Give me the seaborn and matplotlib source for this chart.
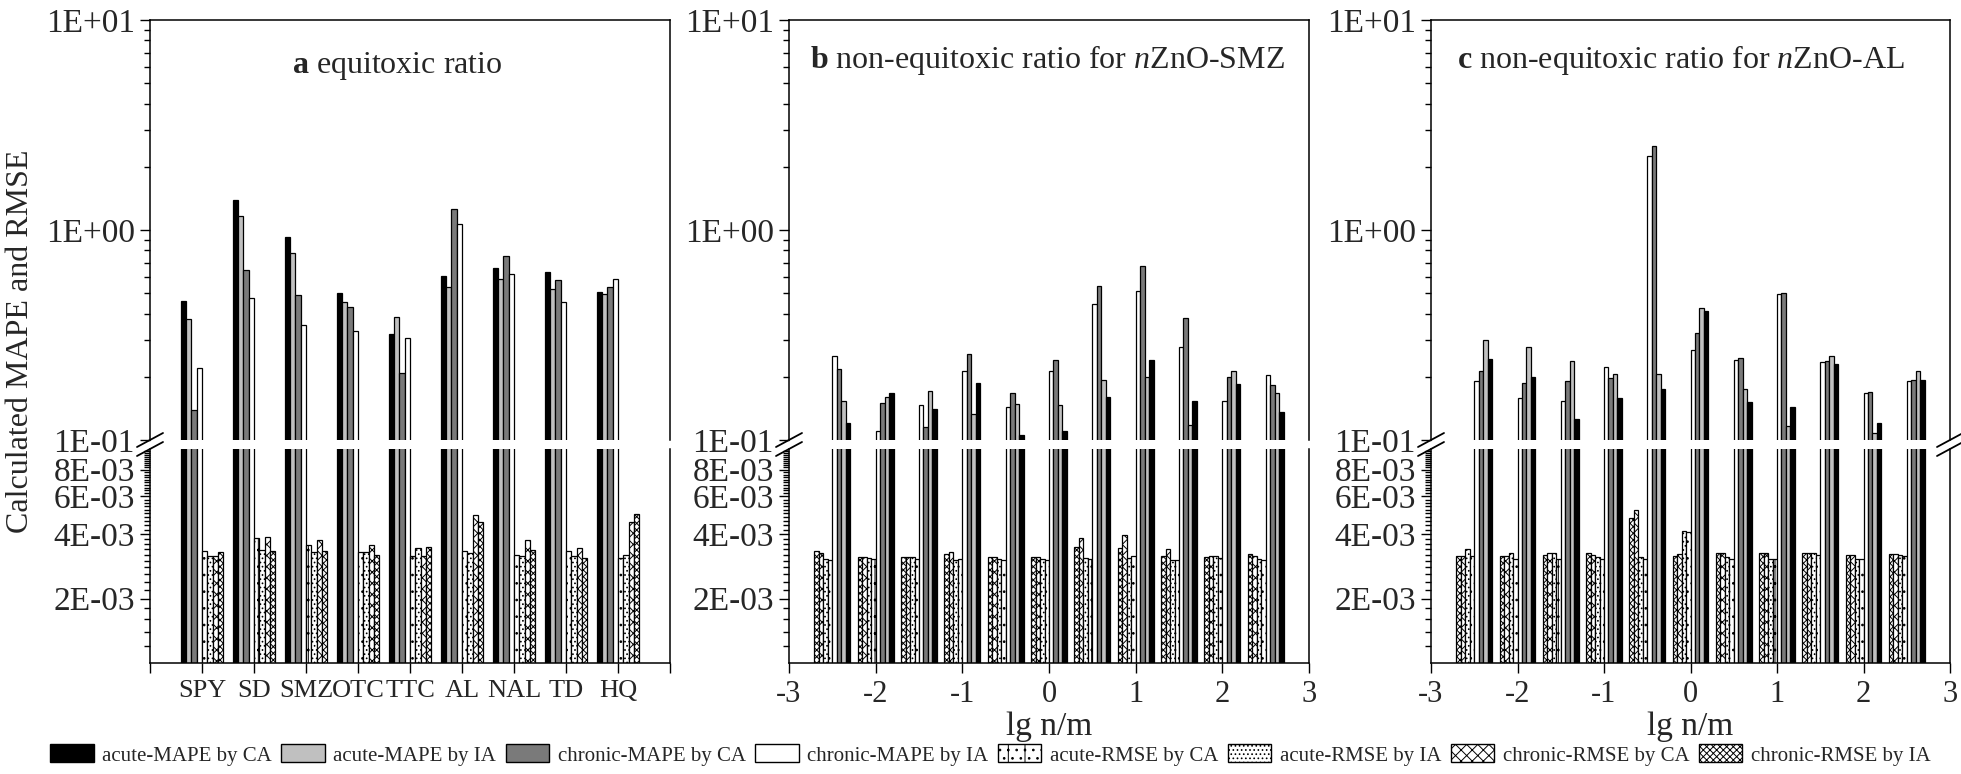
import numpy as np
import pandas as pd
import matplotlib
matplotlib.use("Agg")
import matplotlib.pyplot as plt
import seaborn as sns
from matplotlib.patches import Patch
from matplotlib.lines import Line2D
from matplotlib.ticker import FixedLocator, FixedFormatter, NullFormatter, LogLocator

# ---------------- data ----------------
series = ["acute-MAPE by CA", "acute-MAPE by IA", "chronic-MAPE by CA", "chronic-MAPE by IA",
          "acute-RMSE by CA", "acute-RMSE by IA", "chronic-RMSE by CA", "chronic-RMSE by IA"]

categories = ["SPY", "SD", "SMZ", "OTC", "TTC", "AL", "NAL", "TD", "HQ"]
a_acute_mape_ca = [0.458, 1.39, 0.93, 0.501, 0.32, 0.604, 0.656, 0.628, 0.509]
a_acute_mape_ia = [0.375, 1.17, 0.773, 0.456, 0.387, 0.537, 0.586, 0.524, 0.494]
a_chronic_mape_ca = [0.139, 0.642, 0.489, 0.432, 0.209, 1.26, 0.748, 0.580, 0.533]
a_chronic_mape_ia = [0.221, 0.475, 0.354, 0.329, 0.307, 1.07, 0.619, 0.453, 0.586]
a_acute_rmse_ca = [3.35e-3, 3.85e-3, 3.56e-3, 3.30e-3, 3.17e-3, 3.32e-3, 3.19e-3, 3.32e-3, 3.11e-3]
a_acute_rmse_ia = [3.17e-3, 3.38e-3, 3.29e-3, 3.31e-3, 3.44e-3, 3.26e-3, 3.17e-3, 3.17e-3, 3.19e-3]
a_chronic_rmse_ca = [3.15e-3, 3.88e-3, 3.77e-3, 3.55e-3, 3.15e-3, 4.90e-3, 3.77e-3, 3.44e-3, 4.57e-3]
a_chronic_rmse_ia = [3.30e-3, 3.35e-3, 3.32e-3, 3.21e-3, 3.47e-3, 4.54e-3, 3.38e-3, 3.10e-3, 4.97e-3]

lg_ratio = [-2.5, -2.0, -1.5, -1.0, -0.5, 0.0, 0.5, 1.0, 1.5, 2.0, 2.5]

b_acute_mape_ca = [0.121, 0.168, 0.140, 0.186, 0.106, 0.110, 0.161, 0.240, 0.153, 0.184, 0.136]
b_acute_mape_ia = [0.154, 0.160, 0.171, 0.133, 0.148, 0.147, 0.194, 0.199, 0.118, 0.214, 0.168]
b_chronic_mape_ca = [0.218, 0.150, 0.115, 0.258, 0.168, 0.240, 0.543, 0.671, 0.379, 0.200, 0.182]
b_chronic_mape_ia = [0.251, 0.110, 0.147, 0.212, 0.143, 0.214, 0.446, 0.512, 0.277, 0.153, 0.204]
b_acute_rmse_ca = [3.02e-3, 3.05e-3, 3.05e-3, 3.05e-3, 3.02e-3, 3.02e-3, 3.05e-3, 3.17e-3, 3.02e-3, 3.09e-3, 3.02e-3]
b_acute_rmse_ia = [3.05e-3, 3.09e-3, 3.12e-3, 3.02e-3, 3.05e-3, 3.05e-3, 3.11e-3, 3.09e-3, 3.02e-3, 3.17e-3, 3.07e-3]
b_chronic_rmse_ca = [3.25e-3, 3.14e-3, 3.12e-3, 3.29e-3, 3.14e-3, 3.14e-3, 3.83e-3, 3.96e-3, 3.41e-3, 3.17e-3, 3.17e-3]
b_chronic_rmse_ia = [3.33e-3, 3.12e-3, 3.14e-3, 3.23e-3, 3.14e-3, 3.14e-3, 3.50e-3, 3.46e-3, 3.17e-3, 3.14e-3, 3.23e-3]

c_acute_mape_ca = [0.243, 0.199, 0.126, 0.159, 0.174, 0.413, 0.152, 0.143, 0.229, 0.121, 0.194]
c_acute_mape_ia = [0.299, 0.277, 0.237, 0.207, 0.206, 0.423, 0.175, 0.117, 0.250, 0.108, 0.214]
c_chronic_mape_ca = [0.212, 0.186, 0.192, 0.197, 2.52, 0.323, 0.246, 0.502, 0.237, 0.170, 0.194]
c_chronic_mape_ia = [0.190, 0.158, 0.154, 0.223, 2.25, 0.268, 0.240, 0.495, 0.234, 0.168, 0.191]
c_acute_rmse_ca = [3.17e-3, 3.07e-3, 3.05e-3, 3.05e-3, 3.07e-3, 4.10e-3, 3.07e-3, 3.05e-3, 3.21e-3, 3.05e-3, 3.17e-3]
c_acute_rmse_ia = [3.41e-3, 3.25e-3, 3.28e-3, 3.14e-3, 3.14e-3, 4.14e-3, 3.14e-3, 3.05e-3, 3.28e-3, 3.05e-3, 3.20e-3]
c_chronic_rmse_ca = [3.17e-3, 3.17e-3, 3.26e-3, 3.20e-3, 5.20e-3, 3.23e-3, 3.25e-3, 3.28e-3, 3.25e-3, 3.20e-3, 3.23e-3]
c_chronic_rmse_ia = [3.17e-3, 3.17e-3, 3.21e-3, 3.25e-3, 4.78e-3, 3.17e-3, 3.25e-3, 3.26e-3, 3.25e-3, 3.20e-3, 3.23e-3]

titles = [r"$\mathbf{a}$ equitoxic ratio",
          r"$\mathbf{b}$ non-equitoxic ratio for $\mathit{n}$ZnO-SMZ",
          r"$\mathbf{c}$ non-equitoxic ratio for $\mathit{n}$ZnO-AL"]

# ---------------- style ----------------
sns.set_theme(style="ticks")
plt.rcParams['font.family'] = ['Liberation Serif', 'DejaVu Serif']
plt.rcParams['mathtext.fontset'] = 'custom'
plt.rcParams['mathtext.rm'] = 'Liberation Serif'
plt.rcParams['mathtext.it'] = 'Liberation Serif:italic'
plt.rcParams['mathtext.bf'] = 'Liberation Serif:bold'
plt.rcParams['hatch.linewidth'] = 0.7
plt.rcParams['hatch.color'] = 'black'

face = {series[0]: "#000000", series[1]: "#c0c0c0", series[2]: "#7a7a7a", series[3]: "#ffffff",
        series[4]: "#ffffff", series[5]: "#ffffff", series[6]: "#ffffff", series[7]: "#ffffff"}
hatch = {series[0]: None, series[1]: None, series[2]: None, series[3]: None,
         series[4]: "|..", series[5]: "....", series[6]: "xxx", series[7]: "xxxxx"}


def long_df(xname, xvals, cols):
    frames = []
    for name, vals in zip(series, cols):
        frames.append(pd.DataFrame({xname: xvals, "series": name, "value": vals}))
    return pd.concat(frames, ignore_index=True)


df_a = long_df("cat", categories, [a_acute_mape_ca, a_acute_mape_ia, a_chronic_mape_ca, a_chronic_mape_ia,
                                   a_acute_rmse_ca, a_acute_rmse_ia, a_chronic_rmse_ca, a_chronic_rmse_ia])
df_b = long_df("lg", lg_ratio, [b_acute_mape_ca, b_acute_mape_ia, b_chronic_mape_ca, b_chronic_mape_ia,
                                b_acute_rmse_ca, b_acute_rmse_ia, b_chronic_rmse_ca, b_chronic_rmse_ia])
df_c = long_df("lg", lg_ratio, [c_acute_mape_ca, c_acute_mape_ia, c_chronic_mape_ca, c_chronic_mape_ia,
                                c_acute_rmse_ca, c_acute_rmse_ia, c_chronic_rmse_ca, c_chronic_rmse_ia])

W, H = 1961, 774
fig = plt.figure(figsize=(W / 100, H / 100), dpi=100)

lefts = [150, 789, 1431]
widths = [520, 520, 519]
top_px, brk_top, brk_bot, bot_px = 20, 440, 449, 663


def fr(x0, y0, w, h):
    return [x0 / W, 1 - (y0 + h) / H, w / W, h / H]


tick_kw = dict(direction="out", width=1.0, color="black")


def draw_panel(i, df, xcol, order, native, width):
    axt = fig.add_axes(fr(lefts[i], top_px, widths[i], brk_top - top_px))
    axb = fig.add_axes(fr(lefts[i], brk_bot, widths[i], bot_px - brk_bot))
    for ax in (axt, axb):
        sns.barplot(data=df, x=xcol, y="value", hue="series", hue_order=order,
                    palette=face, saturation=1, width=width, native_scale=native,
                    errorbar=None, edgecolor="black", linewidth=0.9, legend=False, ax=ax)
        ax.set_yscale("log", nonpositive="clip")
        for cont, name in zip(ax.containers, order):
            if hatch[name]:
                for p in cont:
                    p.set_hatch(hatch[name])
        for s in ax.spines.values():
            s.set_linewidth(1.1)
            s.set_color("black")
        ax.set_xlabel("")
        ax.set_ylabel("")
    axt.set_ylim(0.1, 10)
    axb.set_ylim(1e-3, 1e-2)
    axt.spines["bottom"].set_visible(False)
    axb.spines["top"].set_visible(False)

    axt.yaxis.set_major_locator(FixedLocator([0.1, 1, 10]))
    axt.yaxis.set_major_formatter(FixedFormatter(["1E-01", "1E+00", "1E+01"]))
    axt.yaxis.set_minor_locator(LogLocator(base=10, subs=np.arange(2, 10)))
    axt.yaxis.set_minor_formatter(NullFormatter())
    axb.yaxis.set_major_locator(FixedLocator([2e-3, 4e-3, 6e-3, 8e-3]))
    axb.yaxis.set_major_formatter(FixedFormatter(["2E-03", "4E-03", "6E-03", "8E-03"]))
    mins = [k * 1e-4 for k in range(12, 100, 2) if k not in (20, 40, 60, 80)]
    axb.yaxis.set_minor_locator(FixedLocator(mins))
    axb.yaxis.set_minor_formatter(NullFormatter())
    for ax in (axt, axb):
        ax.tick_params(axis="y", which="major", length=7, labelsize=24, pad=4, **tick_kw)
        ax.tick_params(axis="y", which="minor", length=4, **tick_kw)
        ax.tick_params(axis="x", which="both", length=7, pad=5, **tick_kw)
    axt.tick_params(axis="x", which="both", bottom=False, labelbottom=False)

    # break marks
    def mark(ax, xf, yf):
        bb = ax.get_position()
        dx, dy = 13 / W, 7 / H
        x = bb.x0 + xf * bb.width
        y = bb.y0 + yf * bb.height
        fig.add_artist(Line2D([x - dx, x + dx], [y - dy, y + dy], color="black", lw=1.3,
                              transform=fig.transFigure))
    mark(axt, 0, 0)
    mark(axb, 0, 1)
    if i == 2:
        mark(axt, 1, 0)
        mark(axb, 1, 1)
    return axt, axb


# panel a
ta, ba = draw_panel(0, df_a, "cat", series, False, 0.82)
ba.set_xlim(-1, 9)
ba.set_xticks(range(-1, 10))
ba.set_xticklabels([""] + categories + [""], fontsize=19)
ta.set_xlim(-1, 9)
ta.text(0.475, 0.89, titles[0], transform=ta.transAxes, ha="center", va="center", fontsize=23)

order_rev = series[::-1]
tb, bb_ = draw_panel(1, df_b, "lg", order_rev, True, 0.83)
tc, bc = draw_panel(2, df_c, "lg", order_rev, True, 0.83)
for axt, axb, t, xt in ((tb, bb_, titles[1], 0.497), (tc, bc, titles[2], 0.482)):
    for ax in (axt, axb):
        ax.set_xlim(-3, 3)
    axb.set_xticks(range(-3, 4))
    axb.set_xticklabels([str(v) for v in range(-3, 4)], fontsize=22)
    axb.set_xlabel("lg n/m", fontsize=24, labelpad=2)
    axt.text(xt, 0.905, t, transform=axt.transAxes, ha="center", va="center", fontsize=23)

fig.text(0.0105, 1 - 341 / H, "Calculated MAPE and RMSE", rotation=90, ha="center", va="center",
         fontsize=23)

handles = [Patch(facecolor=face[s], edgecolor="black", hatch=hatch[s], linewidth=1.0) for s in series]
fig.legend(handles, series, loc="center", bbox_to_anchor=(0.505, 1 - 755 / H), ncol=8,
           frameon=False, fontsize=15, handlelength=2.1, handleheight=0.95, handletextpad=0.4,
           columnspacing=0.45, borderaxespad=0)

fig.savefig("out.png", dpi=100)
